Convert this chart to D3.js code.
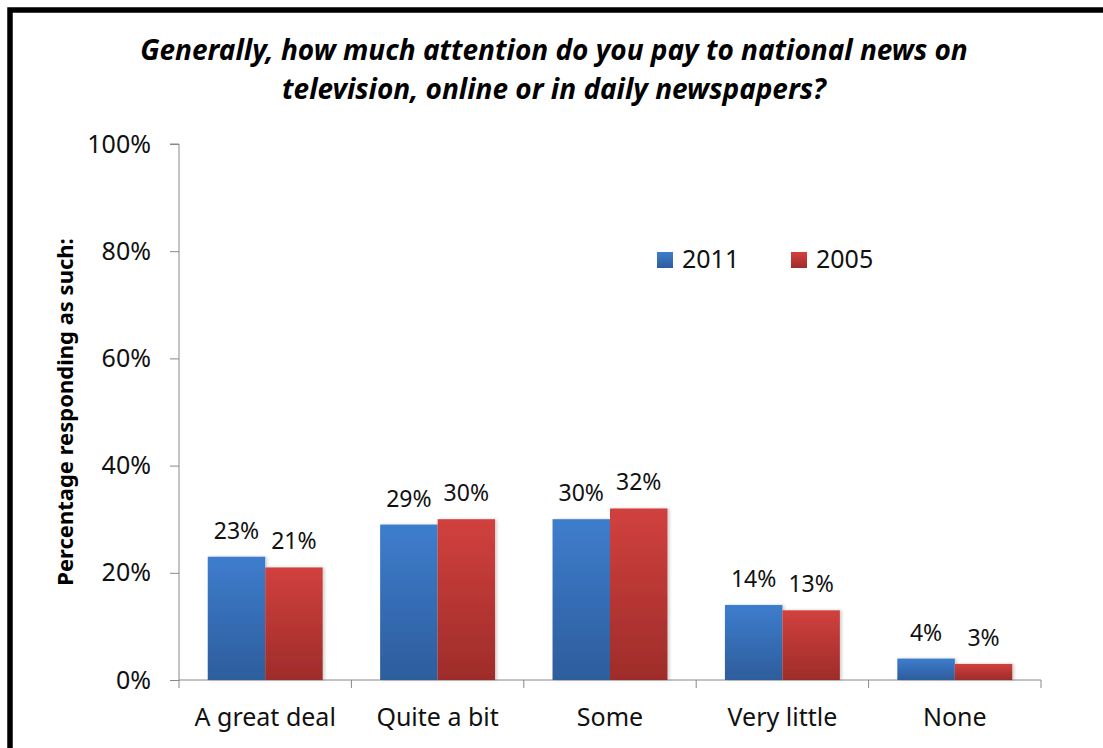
<!DOCTYPE html>
<html><head><meta charset="utf-8">
<script src="https://cdn.jsdelivr.net/npm/d3@7"></script>
<style>body{margin:0;background:#fff;} svg{display:block;}</style>
</head><body>
<script>
const categories = ["A great deal","Quite a bit","Some","Very little","None"];
const seriesNames = ["2011","2005"];
const values2011 = [23,29,30,14,4];
const values2005 = [21,30,32,13,3];
const yTicks = [0,20,40,60,80,100];
const titleLines = ["Generally, how much attention do you pay to national news on","television, online or in daily newspapers?"];
const yTitle = "Percentage responding as such:";

const W=1103,H=748;
const svg=d3.select("body").append("svg").attr("width",W).attr("height",H);
const font="'Noto Sans', sans-serif";
const defs=svg.append("defs");
const grads=[["gBlue","#3e7dcd","#2d5d9c"],["gRed","#d1413e","#9e2c2a"]];
grads.forEach(([id,a,b])=>{
  const g=defs.append("linearGradient").attr("id",id).attr("x1",0).attr("y1",0).attr("x2",0).attr("y2",1);
  g.append("stop").attr("offset","0%").attr("stop-color",a);
  g.append("stop").attr("offset","100%").attr("stop-color",b);
});
const f=defs.append("filter").attr("id","sh").attr("x","-10%").attr("y","-10%").attr("width","130%").attr("height","130%");
f.append("feDropShadow").attr("dx",2).attr("dy",0).attr("stdDeviation",1.5).attr("flood-color","#000").attr("flood-opacity",0.18);

// frame
svg.append("rect").attr("x",10).attr("y",10).attr("width",1300).attr("height",1000)
  .attr("fill","none").attr("stroke","#000").attr("stroke-width",5.5);

const L=179,R=1041,T=144,B=680;
const y=d3.scaleLinear().domain([0,100]).range([B,T]);
const x0=d3.scaleBand().domain(categories).range([L,R]).padding(0);
const bw=x0.bandwidth();
const x1=d3.scaleBand().domain(seriesNames).range([bw/6,bw*5/6]).padding(0);

// title
svg.append("g").selectAll("text").data(titleLines).join("text")
  .attr("x",554).attr("y",(d,i)=>60+i*39).attr("text-anchor","middle")
  .attr("font-family",font).attr("font-size",28).attr("font-weight","bold").attr("font-style","italic")
  .attr("fill","#000").text(d=>d);

// y axis
const ya=svg.append("g").attr("transform",`translate(${L},0)`)
  .call(d3.axisLeft(y).tickValues(yTicks).tickFormat(d=>d+"%").tickSize(9).tickPadding(19));
ya.select(".domain").attr("stroke","#888").attr("d",`M-9,${T}H0V${B}`);
ya.selectAll(".tick line").attr("stroke","#888");
ya.selectAll(".tick text").attr("font-family",font).attr("font-size",25).attr("fill","#111");

// x axis
const xa=svg.append("g").attr("transform",`translate(0,${B})`)
  .call(d3.axisBottom(x0).tickSize(0).tickPadding(28));
xa.select(".domain").attr("stroke","#888").attr("d",`M${L},0H${R}`);
xa.selectAll(".tick text").attr("font-family",font).attr("font-size",25).attr("fill","#111");
const bounds=categories.map(c=>x0(c)).concat([R]);
svg.append("g").selectAll("line").data(bounds).join("line")
  .attr("x1",d=>d).attr("x2",d=>d).attr("y1",B).attr("y2",B+8).attr("stroke","#888");

// bars
const data=categories.map((c,i)=>({c,vals:[{s:"2011",v:values2011[i]},{s:"2005",v:values2005[i]}]}));
const gs=svg.append("g").selectAll("g").data(data).join("g").attr("transform",d=>`translate(${x0(d.c)},0)`);
gs.selectAll("rect").data(d=>d.vals).join("rect")
  .attr("x",d=>x1(d.s)).attr("width",x1.bandwidth()).attr("y",d=>y(d.v)).attr("height",d=>B-y(d.v))
  .attr("fill",d=>d.s==="2011"?"url(#gBlue)":"url(#gRed)").attr("filter","url(#sh)");
gs.selectAll("text").data(d=>d.vals).join("text")
  .attr("x",d=>x1(d.s)+x1.bandwidth()/2).attr("y",d=>y(d.v)-18).attr("text-anchor","middle")
  .attr("font-family",font).attr("font-size",23).attr("fill","#111").text(d=>d.v+"%");

// y title
svg.append("text").attr("transform",`translate(73,${(T+B)/2}) rotate(-90)`).attr("text-anchor","middle")
  .attr("font-family",font).attr("font-size",22).attr("font-weight","bold").attr("fill","#000").text(yTitle);

// legend
const leg=[{s:"2011",x:657,fill:"url(#gBlue)"},{s:"2005",x:791,fill:"url(#gRed)"}];
const lg=svg.append("g").selectAll("g").data(leg).join("g").attr("transform",d=>`translate(${d.x},252)`);
lg.append("rect").attr("width",16).attr("height",16).attr("fill",d=>d.fill);
lg.append("text").attr("x",25).attr("y",16).attr("font-family",font).attr("font-size",25).attr("fill","#111").text(d=>d.s);
</script>
</body></html>
